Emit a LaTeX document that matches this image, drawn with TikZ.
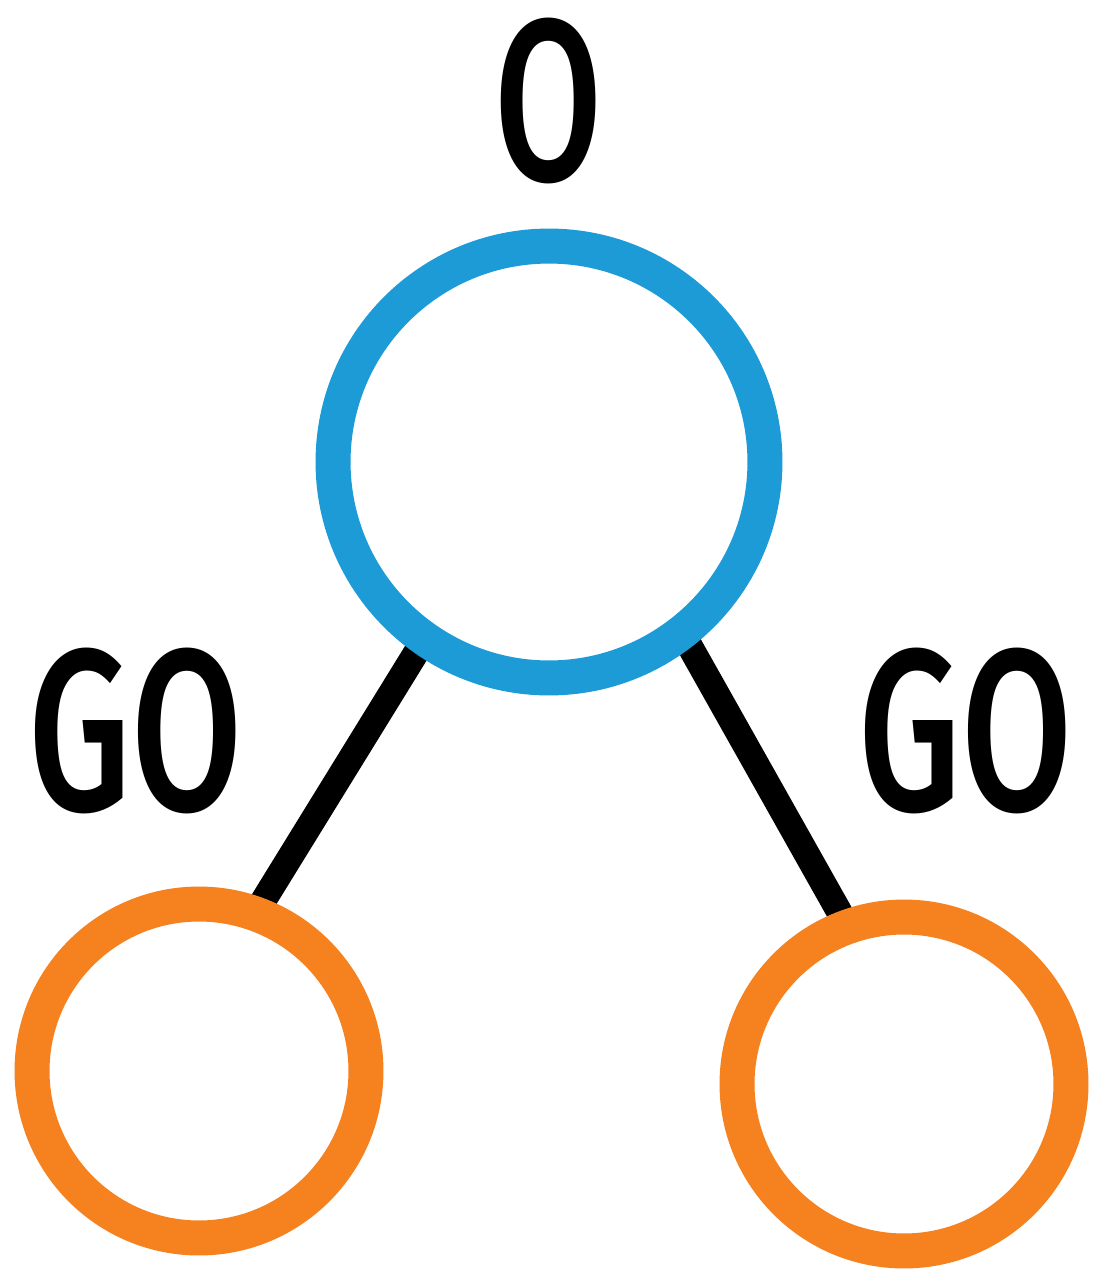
\documentclass[tikz,border=0pt]{standalone}
\usepackage{fontspec}
\usepackage{graphicx}
\setmainfont{Fira Sans}
\newfontfamily\lblfont{Fira Sans Medium}
\definecolor{nodeblue}{RGB}{29,155,215}
\definecolor{nodeorange}{RGB}{245,130,31}
\begin{document}
\begin{tikzpicture}[x=0.02cm,y=-0.02cm,
  rootnode/.style={circle,draw=nodeblue,line width=0.7cm,fill=white,minimum size=8.64cm,inner sep=0pt},
  leafnode/.style={circle,draw=nodeorange,line width=0.7cm,fill=white,minimum size=6.68cm,inner sep=0pt},
  edge/.style={line width=0.52cm,black},
  lbl/.style={inner sep=0pt,font=\lblfont\fontsize{131}{140}\selectfont}]
\useasboundingbox[fill=white] (0,0) rectangle (1095,1269);
% connector end points (hidden under circle strokes)
\coordinate (la) at (432,627);
\coordinate (lb) at (260,906);
\coordinate (ra) at (679,627);
\coordinate (rb) at (845,922);
\draw[edge] (la) -- (lb);
\draw[edge] (ra) -- (rb);
\node[rootnode] (root) at (549,462) {};
\node[leafnode] (left) at (199,1071) {};
\node[leafnode] (right) at (904,1084) {};
\node[lbl] (rootlabel) at (548.5,101) {\scalebox{0.68}[1]{O}};
\node[lbl] (leftlabel) at (136,731) {\scalebox{0.7}[1]{GO}};
\node[lbl] (rightlabel) at (966,731) {\scalebox{0.7}[1]{GO}};
\end{tikzpicture}
\end{document}
